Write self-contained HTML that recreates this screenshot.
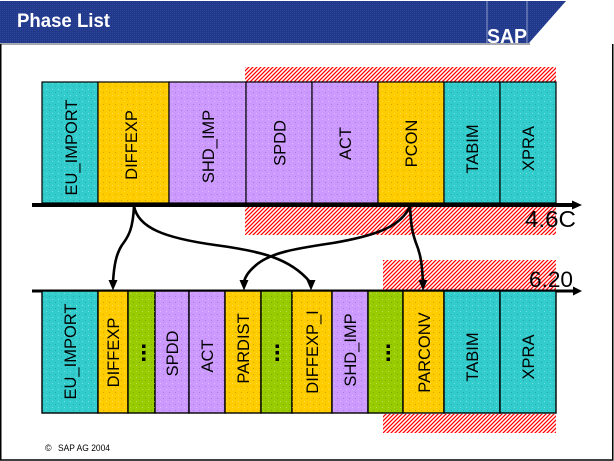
<!DOCTYPE html>
<html><head><meta charset="utf-8"><style>
html,body{margin:0;padding:0;background:#fff;}
svg{display:block;}
text{font-family:"Liberation Sans",Arial,sans-serif;}
</style></head><body>
<svg width="614" height="461" viewBox="0 0 614 461" xmlns="http://www.w3.org/2000/svg">
<defs>
<pattern id="hatch" patternUnits="userSpaceOnUse" width="4" height="4">
<path d="M-1,1 L1,-1 M0,4 L4,0 M3,5 L5,3" stroke="#ff0000" stroke-width="1.25"/>
</pattern>
<pattern id="dots" patternUnits="userSpaceOnUse" width="6" height="6">
<rect x="1" y="2" width="1" height="1" fill="rgba(0,0,0,0.18)"/>
<rect x="4" y="5" width="1" height="1" fill="rgba(255,255,255,0.35)"/>
</pattern>
<pattern id="hdr" patternUnits="userSpaceOnUse" width="2" height="2">
<rect width="2" height="2" fill="#22398a"/>
<rect width="1" height="1" fill="#2c46a0"/>
</pattern>
</defs>

<!-- header -->
<rect x="0" y="43" width="530" height="2" fill="#a8a8b0"/>
<polygon points="0,1 566,1 529,43 0,43" fill="url(#hdr)"/>
<line x1="487" y1="1" x2="487" y2="43" stroke="#8c9cc8" stroke-width="1"/>
<line x1="527" y1="1" x2="527" y2="43" stroke="#8c9cc8" stroke-width="1"/>
<text x="17" y="27" font-size="19" font-weight="bold" fill="#fff" textLength="93" lengthAdjust="spacingAndGlyphs">Phase List</text>
<text x="487" y="43" font-size="20" font-weight="bold" fill="#fff" textLength="40" lengthAdjust="spacingAndGlyphs">SAP</text>

<!-- frame -->
<path d="M0.75,44 V460 H612.75 V44" fill="none" stroke="#000" stroke-width="1.5"/>

<!-- hatch regions -->
<rect x="245" y="67" width="311" height="15" fill="url(#hatch)"/>
<rect x="245" y="207" width="311" height="28" fill="url(#hatch)"/>
<rect x="383" y="260" width="173" height="30" fill="url(#hatch)"/>
<rect x="383" y="414" width="173" height="19" fill="url(#hatch)"/>

<!-- top row boxes -->
<g stroke="#000" stroke-width="1.2">
<rect x="42" y="82" width="56" height="121" fill="#33cccc"/>
<rect x="98" y="82" width="71" height="121" fill="#ffcc00"/>
<rect x="169" y="82" width="77" height="121" fill="#cc99ff"/>
<rect x="246" y="82" width="66" height="121" fill="#cc99ff"/>
<rect x="312" y="82" width="66" height="121" fill="#cc99ff"/>
<rect x="378" y="82" width="66" height="121" fill="#ffcc00"/>
<rect x="444" y="82" width="56" height="121" fill="#33cccc"/>
<rect x="500" y="82" width="56" height="121" fill="#33cccc"/>
</g>
<rect x="42" y="82" width="514" height="121" fill="url(#dots)"/>

<!-- top row labels -->
<g font-size="16.5" fill="#000" text-anchor="middle">
<text transform="translate(77,147.5) rotate(-90)">EU_IMPORT</text>
<text transform="translate(137,145) rotate(-90)">DIFFEXP</text>
<text transform="translate(214,146.5) rotate(-90)">SHD_IMP</text>
<text transform="translate(285.5,143) rotate(-90)">SPDD</text>
<text transform="translate(351,143.5) rotate(-90)">ACT</text>
<text transform="translate(417,143.5) rotate(-90)">PCON</text>
<text transform="translate(478,149) rotate(-90)">TABIM</text>
<text transform="translate(534,148.5) rotate(-90)">XPRA</text>
</g>

<!-- top axis -->
<rect x="32" y="203" width="542" height="4" fill="#000"/>
<polygon points="572,200.5 582,205 572,209.5" fill="#000"/>
<text x="525" y="227" font-size="23" fill="#000" textLength="51" lengthAdjust="spacingAndGlyphs">4.6C</text>

<!-- bottom axis -->
<rect x="32" y="289.5" width="542" height="3" fill="#000"/>
<polygon points="573,286.5 582,291 573,295.5" fill="#000"/>
<text x="529" y="287" font-size="22" fill="#000" textLength="44" lengthAdjust="spacingAndGlyphs">6.20</text>

<!-- bottom row boxes -->
<g stroke="#000" stroke-width="1.4">
<rect x="42" y="291" width="56" height="122" fill="#33cccc"/>
<rect x="98" y="291" width="30" height="122" fill="#ffcc00"/>
<rect x="128" y="291" width="27" height="122" fill="#99cc00"/>
<rect x="155" y="291" width="34" height="122" fill="#cc99ff"/>
<rect x="189" y="291" width="36" height="122" fill="#cc99ff"/>
<rect x="225" y="291" width="36" height="122" fill="#ffcc00"/>
<rect x="261" y="291" width="31" height="122" fill="#99cc00"/>
<rect x="292" y="291" width="40" height="122" fill="#ffcc00"/>
<rect x="332" y="291" width="36" height="122" fill="#cc99ff"/>
<rect x="368" y="291" width="35" height="122" fill="#99cc00"/>
<rect x="403" y="291" width="41" height="122" fill="#ffcc00"/>
<rect x="444" y="291" width="56" height="122" fill="#33cccc"/>
<rect x="500" y="291" width="56" height="122" fill="#33cccc"/>
</g>
<rect x="42" y="292" width="514" height="120" fill="url(#dots)"/>

<!-- bottom row labels -->
<g font-size="16.5" fill="#000" text-anchor="middle">
<text transform="translate(76,351.5) rotate(-90)">EU_IMPORT</text>
<text transform="translate(119,352.5) rotate(-90)">DIFFEXP</text>
<text transform="translate(178,353.5) rotate(-90)">SPDD</text>
<text transform="translate(213,356) rotate(-90)">ACT</text>
<text transform="translate(249,348.5) rotate(-90)">PARDIST</text>
<text transform="translate(318,352) rotate(-90)">DIFFEXP_I</text>
<text transform="translate(356,350) rotate(-90)">SHD_IMP</text>
<text transform="translate(430,352.5) rotate(-90)">PARCONV</text>
<text transform="translate(478,357) rotate(-90)">TABIM</text>
<text transform="translate(534,357) rotate(-90)">XPRA</text>
</g>
<!-- dots -->
<g fill="#000">
<rect x="142" y="344.5" width="3.5" height="3.5"/><rect x="142" y="351" width="3.5" height="3.5"/><rect x="142" y="357.5" width="3.5" height="3.5"/>
<rect x="275.5" y="344.5" width="3.5" height="3.5"/><rect x="275.5" y="351" width="3.5" height="3.5"/><rect x="275.5" y="357.5" width="3.5" height="3.5"/>
<rect x="386.5" y="344.5" width="3.5" height="3.5"/><rect x="386.5" y="351" width="3.5" height="3.5"/><rect x="386.5" y="357.5" width="3.5" height="3.5"/>
</g>

<!-- connectors -->
<g fill="none" stroke="#000" stroke-width="2.6" stroke-linecap="round">
<path d="M134,206 C133,228 129,236 122,245 C116,254 114,266 113,282"/>
<path d="M134,206 C138,228 165,238 215,245 C260,251 290,258 310,282"/>
<path d="M410,206 C402,225 380,235 333,243 C300,248 270,252 255,266 C248,272 245,277 244,282"/>
<path d="M410,206 C411,225 412,232 416,243 C421,255 422,265 423,282"/>
</g>
<g fill="#000">
<polygon points="108.5,280 117.5,280 113,290.5"/>
<polygon points="306.5,280 315.5,280 311,290.5"/>
<polygon points="239.5,280 248.5,280 244,290.5"/>
<polygon points="418.5,280 427.5,280 423,290.5"/>
</g>

<!-- footer -->
<text x="45" y="451" font-size="9" fill="#000">©</text>
<text x="58" y="451" font-size="9" fill="#000" textLength="52" lengthAdjust="spacingAndGlyphs">SAP AG 2004</text>
</svg>
</body></html>
